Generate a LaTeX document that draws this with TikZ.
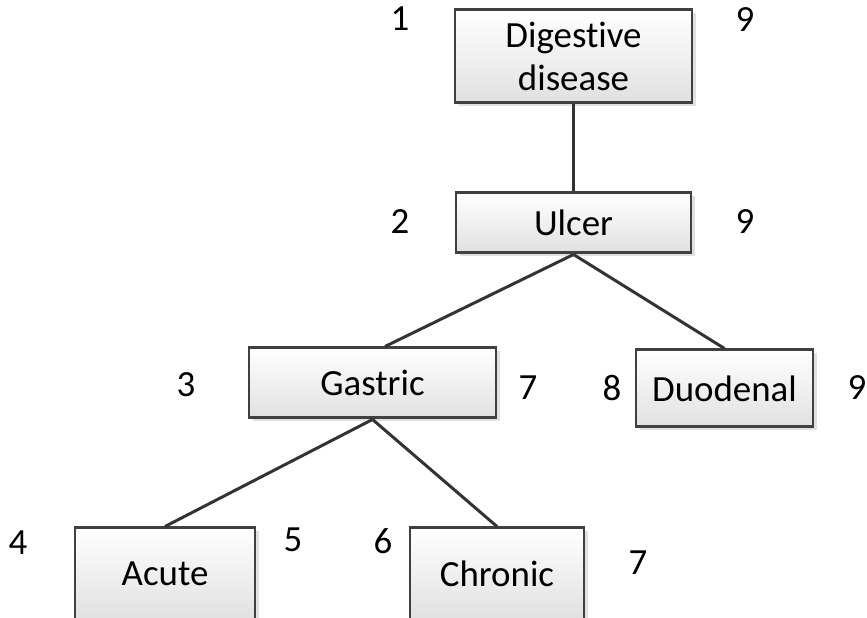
\documentclass[tikz,border=0pt]{standalone}
\usepackage{fontspec}
\setmainfont{Carlito}[Ligatures={NoCommon,NoRare}]
\usetikzlibrary{shadows}

\tikzset{
    termbox/.style={draw=black!75, line width=1.7pt, top color=white, bottom color=black!12,
        drop shadow={shadow xshift=0.07cm, shadow yshift=-0.07cm, fill=black!20, opacity=0.6},
        align=center, inner sep=0pt, font=\fontsize{21}{24}\selectfont},
    numlabel/.style={font=\fontsize{21}{24}\selectfont},
    edge/.style={draw=black!80, line width=1.7pt}
}

\begin{document}
\begin{tikzpicture}
    \clip (0,0) rectangle (17.34,12.36);
    \useasboundingbox (0,0) rectangle (17.34,12.36);

    % Tree nodes
    \node[termbox, minimum width=4.74cm, minimum height=1.86cm] (digestive) at (11.47,11.23) {Digestive\\disease};
    \node[termbox, minimum width=4.70cm, minimum height=1.20cm] (ulcer) at (11.47,7.90) {Ulcer};
    \node[termbox, minimum width=4.94cm, minimum height=1.40cm] (gastric) at (7.45,4.70) {Gastric};
    \node[termbox, minimum width=3.54cm, minimum height=1.54cm] (duodenal) at (14.49,4.59) {Duodenal};
    \node[termbox, minimum width=3.60cm, minimum height=1.84cm] (acute) at (3.30,0.88) {Acute};
    \node[termbox, minimum width=3.48cm, minimum height=1.84cm] (chronic) at (9.94,0.88) {Chronic};

    % Edges
    \draw[edge] (digestive.south) -- (ulcer.north);
    \draw[edge] (ulcer.south) -- ([xshift=0.25cm]gastric.north);
    \draw[edge] (ulcer.south) -- (duodenal.north);
    \draw[edge] (gastric.south) -- (acute.north);
    \draw[edge] (gastric.south) -- (chronic.north);

    % Numbering
    \node[numlabel] (digestivel) at (8.00,11.98) {1};
    \node[numlabel] (digestiver) at (14.90,11.96) {9};
    \node[numlabel] (ulcerl) at (8.00,7.92) {2};
    \node[numlabel] (ulcerr) at (14.90,7.92) {9};
    \node[numlabel] (gastricl) at (3.72,4.66) {3};
    \node[numlabel] (gastricr) at (10.56,4.60) {7};
    \node[numlabel] (duodenall) at (12.24,4.60) {8};
    \node[numlabel] (duodenalr) at (17.14,4.60) {9};
    \node[numlabel] (acutel) at (0.36,1.50) {4};
    \node[numlabel] (acuter) at (5.86,1.56) {5};
    \node[numlabel] (chronicl) at (7.66,1.54) {6};
    \node[numlabel] (chronicr) at (12.76,1.10) {7};
\end{tikzpicture}
\end{document}
